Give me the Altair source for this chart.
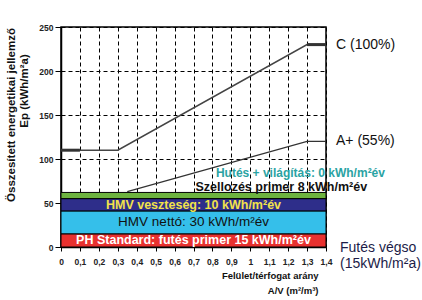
import altair as alt
import pandas as pd

FONT = "Liberation Sans"

# energy bands (kWh/m²a)
band_names = ["PH Standard", "HMV nettó", "HMV veszteség", "Szellozés"]
band_low = [0, 15, 41, 55]
band_high = [15, 41, 55, 62]
band_colors = ["#e8312f", "#35bfea", "#2e2e8a", "#6db33f"]

# curves
c_x = [0, 0.3, 1.3, 1.4]
c_y = [110, 110, 230, 230]
a_x = [0.35, 1.3, 1.4]
a_y = [63, 120, 120]
thick_x = [0, 0.1, 1.3, 1.4]
thick_y = [110, 110, 230, 230]
thick_seg = ["a", "a", "b", "b"]

x_ticks = [0, 0.1, 0.2, 0.3, 0.4, 0.5, 0.6, 0.7, 0.8, 0.9, 1.0, 1.1, 1.2, 1.3, 1.4]
y_ticks = [0, 50, 100, 150, 200, 250]

bands = pd.DataFrame({"name": band_names, "y": band_low, "y2": band_high,
                      "x": [0] * 4, "x2": [1.4] * 4})
c_df = pd.DataFrame({"x": c_x, "y": c_y})
a_df = pd.DataFrame({"x": a_x, "y": a_y})
t_df = pd.DataFrame({"x": thick_x, "y": thick_y, "seg": thick_seg})

xscale = alt.Scale(domain=[0, 1.4], nice=False, zero=False)
yscale = alt.Scale(domain=[0, 250], nice=False)

xaxis = alt.Axis(values=x_ticks, format=".1~f", labelExpr="replace(datum.label, '.', ',')",
                 labelOverlap=False, tickSize=4, labelPadding=6, labelFlush=False,
                 title=["Felület/térfogat arány", "A/V (m²/m³)"], titleFont=FONT,
                 titleFontSize=9.5, titleFontWeight="bold", titleAlign="right",
                 titleAnchor="end", titleX=257, titleY=23, titleBaseline="top",
                 titleLineHeight=15, titleColor="#111")
yaxis = alt.Axis(values=y_ticks, tickSize=6, labelPadding=2, labelOverlap=False, title=None)

X = alt.X("x:Q", scale=xscale, axis=xaxis)
Y = alt.Y("y:Q", scale=yscale, axis=yaxis)

c_line = alt.Chart(c_df).mark_line(color="#444", strokeWidth=1.6).encode(x=X, y=Y)
a_line = alt.Chart(a_df).mark_line(color="#333", strokeWidth=1.2).encode(x=X, y=Y)
t_line = alt.Chart(t_df).mark_line(color="#333", strokeWidth=3).encode(
    x=X, y=Y, detail="seg:N")

rects = alt.Chart(bands).mark_rect(stroke="black", strokeWidth=1).encode(
    x=X, x2="x2:Q", y=Y, y2="y2:Q",
    color=alt.Color("name:N", scale=alt.Scale(domain=band_names, range=band_colors), legend=None))

def label(text, x, y, color, size, weight="normal", align="center", dx=0, dy=0,
          line_height=None):
    df = pd.DataFrame({"x": [x], "y": [y], "t": [text]})
    kw = dict(font=FONT, fontSize=size, fontWeight=weight, color=color, align=align,
              baseline="middle", dx=dx, dy=dy)
    if line_height is not None:
        kw["lineBreak"] = "\n"
        kw["lineHeight"] = line_height
    return alt.Chart(df).mark_text(**kw).encode(x=X, y=Y, text="t:N")

texts = [
    label("PH Standard: futés primer 15 kWh/m²év", 0.7, 7.8, "white", 12.5, "bold"),
    label("HMV nettó: 30 kWh/m²év", 0.7, 28, "#111", 13.5),
    label("HMV veszteség: 10 kWh/m²év", 0.7, 47.8, "#f2e24a", 12.5, "bold"),
    label("Szellozés primer 8 kWh/m²év", 1.164, 67.8, "#111", 12.5, "bold"),
    label("Hutés + világítás: 0 kWh/m²év", 1.265, 83.6, "#2aa3a3", 12, "bold"),
    label("C (100%)", 1.4, 230, "#111", 14, align="left", dx=10),
    label("A+ (55%)", 1.4, 120, "#111", 14, align="left", dx=10),
    label("Futés végso\n(15kWh/m²a)", 1.4, -1, "#1c1c48", 14, align="left", dx=14,
          line_height=16),
]

ytitle1 = alt.Chart(pd.DataFrame({"t": ["Összesített energetikai jellemző"]})).mark_text(
    font=FONT, fontSize=11.5, fontWeight="bold", color="#111", angle=270,
    align="center", baseline="middle").encode(x=alt.value(-49), y=alt.value(88), text="t:N")
ytitle2 = alt.Chart(pd.DataFrame({"t": ["Ep (kWh/m²a)"]})).mark_text(
    font=FONT, fontSize=11.5, fontWeight="bold", color="#111", angle=270,
    align="center", baseline="middle").encode(x=alt.value(-36), y=alt.value(64), text="t:N")

chart = alt.layer(c_line, a_line, t_line, rects, *texts, ytitle1, ytitle2).properties(
    width=265, height=220, autosize="none",
    padding={"left": 61, "top": 27, "right": 96, "bottom": 53},
    background="white",
).configure_view(stroke="black", strokeWidth=1.5).configure_axis(
    grid=True, gridDash=[4, 3], gridColor="black", gridOpacity=1, gridWidth=1,
    domainColor="black", domainWidth=1.5, tickColor="black",
    labelFont=FONT, labelFontSize=8.5, labelFontWeight="bold", labelColor="#222",
)

chart.save("out.html", embed_options={"renderer": "svg", "actions": False})
